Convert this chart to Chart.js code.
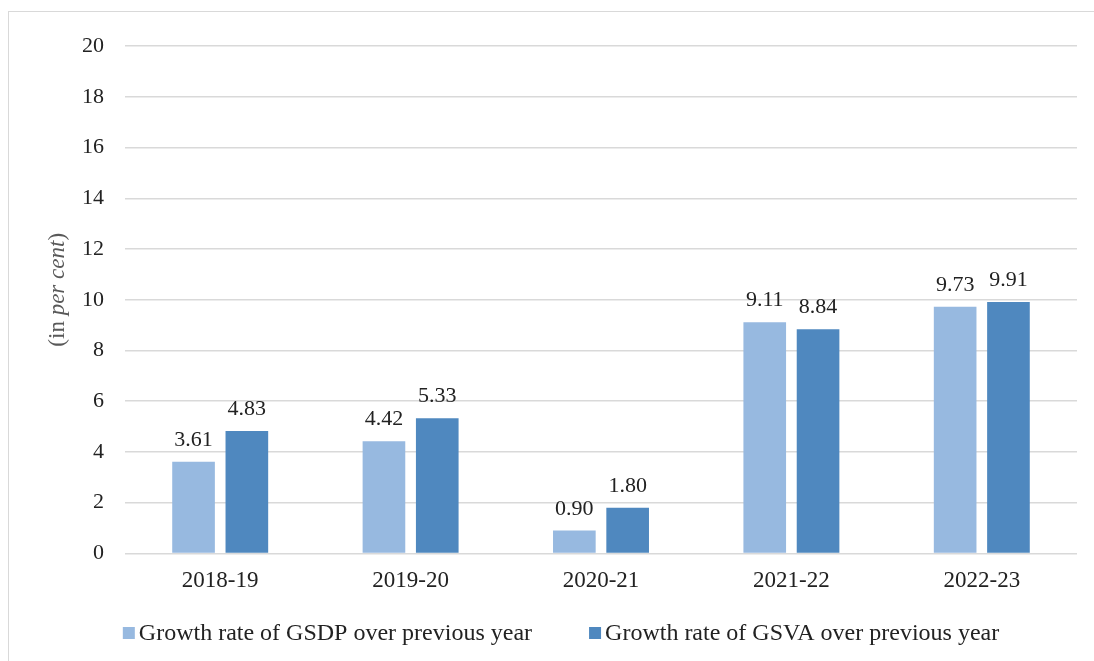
<!DOCTYPE html>
<html>
<head>
<meta charset="utf-8">
<script src="https://cdn.jsdelivr.net/npm/chart.js@4"></script>
<style>
  body { margin: 0; background: #fff; overflow: hidden; }
  #wrap { position: absolute; left: 8px; top: 11px; width: 1090px; height: 660px; border: 1px solid #d9d9d9; }
</style>
</head>
<body>
<div id="wrap"><canvas id="growthChart" width="1090" height="660"></canvas></div>
<script>
const years = ['2018-19', '2019-20', '2020-21', '2021-22', '2022-23'];
const gsdpGrowth = [3.61, 4.42, 0.90, 9.11, 9.73];
const gsvaGrowth = [4.83, 5.33, 1.80, 8.84, 9.91];
const yTicks = [0, 2, 4, 6, 8, 10, 12, 14, 16, 18, 20];

const serif = "'Liberation Serif', 'Times New Roman', serif";

// value labels above each bar
const barLabels = {
    id: 'barLabels',
    afterDatasetsDraw(chart) {
        const c = chart.ctx;
        c.save();
        c.font = '22px ' + serif;
        c.fillStyle = '#222';
        c.textAlign = 'center';
        c.textBaseline = 'alphabetic';
        chart.data.datasets.forEach((ds, i) => {
            chart.getDatasetMeta(i).data.forEach((bar, j) => {
                c.fillText(ds.data[j].toFixed(2), bar.x, bar.y - 16);
            });
        });
        c.restore();
    }
};

// y axis title with italic part
const yTitle = {
    id: 'yTitle',
    afterDraw(chart) {
        const c = chart.ctx;
        const area = chart.chartArea;
        const parts = [['(in ', 'normal'], ['per cent', 'italic'], [')', 'normal']];
        c.save();
        c.fillStyle = '#595959';
        c.textBaseline = 'middle';
        let total = 0;
        parts.forEach(p => { c.font = p[1] + ' 23px ' + serif; total += c.measureText(p[0]).width; });
        c.translate(49, (area.top + area.bottom) / 2 - 10);
        c.rotate(-Math.PI / 2);
        let x = -total / 2;
        parts.forEach(p => {
            c.font = p[1] + ' 23px ' + serif;
            c.fillText(p[0], x, 0);
            x += c.measureText(p[0]).width;
        });
        c.restore();
    }
};

// legend row under the axis
const bottomLegend = {
    id: 'bottomLegend',
    afterDraw(chart) {
        const c = chart.ctx;
        const box = 12, gap = 4, spacing = 57;
        c.save();
        c.font = '24px ' + serif;
        c.textBaseline = 'middle';
        const items = chart.data.datasets.map(ds => ({
            text: ds.label, color: ds.backgroundColor, w: box + gap + c.measureText(ds.label).width
        }));
        const total = items.reduce((s, it) => s + it.w, 0) + spacing * (items.length - 1);
        let x = 552 - total / 2;
        const y = 621;
        items.forEach(it => {
            c.fillStyle = it.color;
            c.fillRect(x, y - box / 2, box, box);
            c.fillStyle = '#222';
            c.fillText(it.text, x + box + gap, y + 1);
            x += it.w + spacing;
        });
        c.restore();
    }
};

new Chart(document.getElementById('growthChart'), {
    type: 'bar',
    data: {
        labels: years,
        datasets: [{
            label: 'Growth rate of GSDP over previous year',
            data: gsdpGrowth,
            backgroundColor: '#97B9E0',
            categoryPercentage: 0.56,
            barPercentage: 0.8
        }, {
            label: 'Growth rate of GSVA over previous year',
            data: gsvaGrowth,
            backgroundColor: '#4F88BF',
            categoryPercentage: 0.56,
            barPercentage: 0.8
        }]
    },
    options: {
        responsive: false,
        animation: false,
        layout: { padding: { top: 30, right: 22, left: 0, bottom: 71 } },
        plugins: {
            legend: { display: false },
            tooltip: { enabled: false }
        },
        scales: {
            x: {
                grid: { display: false },
                border: { display: false },
                ticks: { color: '#222', padding: 6, font: { family: serif, size: 23 } }
            },
            y: {
                min: 0,
                max: 20,
                afterBuildTicks: (axis) => { axis.ticks = yTicks.map(v => ({ value: v })); },
                afterFit: (axis) => { axis.width = 116; },
                grid: { color: '#d9d9d9', lineWidth: 1.5, drawTicks: false },
                border: { display: false },
                ticks: { color: '#222', padding: 21, font: { family: serif, size: 22 } }
            }
        }
    },
    plugins: [barLabels, yTitle, bottomLegend]
});
</script>
</body>
</html>
